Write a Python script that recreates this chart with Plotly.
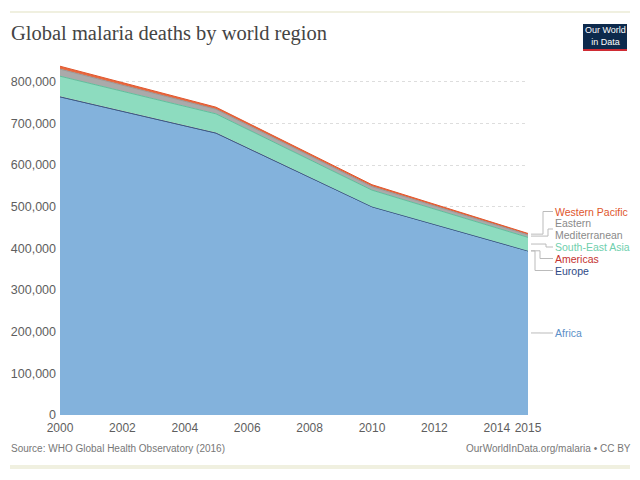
import plotly.graph_objects as go

# data (deaths, stacked)
years = [2000, 2005, 2010, 2015]
regions = ["Africa", "Europe", "Americas", "South-East Asia", "Eastern Mediterranean", "Western Pacific"]
africa = [764000, 677000, 500000, 394000]
europe = [0, 0, 0, 0]
americas = [1500, 1100, 900, 500]
south_east_asia = [48000, 45000, 39000, 32000]
eastern_med = [17000, 11000, 8500, 6200]
western_pacific = [7000, 5000, 4500, 3200]
series = [africa, europe, americas, south_east_asia, eastern_med, western_pacific]

x_ticks = [2000, 2002, 2004, 2006, 2008, 2010, 2012, 2014, 2015]
y_ticks = [0, 100000, 200000, 300000, 400000, 500000, 600000, 700000, 800000]

fills = ["#83b2dc", "#2e4a86", "#c4322f", "#8ddcbf", "#aaaaaa", "#e8683f"]
lines = ["#3f6b93", "#3a5a88", "#c4322f", "#5fbf9c", "#999999", "#e0562c"]
line_w = [1, 1, 0, 1, 1, 1]
label_colors = ["#5b8fc8", "#2e4a86", "#c4322f", "#6fcfad", "#8a8a8a", "#e0562c"]
label_lines = [["Africa"], ["Europe"], ["Americas"], ["South-East Asia"],
               ["Eastern", "Mediterranean"], ["Western Pacific"]]

# page has an 8px body margin, so the figure is drawn 8px smaller and offset
OFF = 8
W, H = 640 - 2 * OFF, 480 - 2 * OFF
L, R, T, B = 60 - OFF, 112 - OFF, 61 - OFF, 65 - OFF
Y_MAX = 850000


def px_x(p):
    return (p - OFF - L) / (W - L - R)


def px_y(p):
    return (H - B - (p - OFF)) / (H - T - B)


fig = go.Figure()
for name, vals, fc, lc, lw in zip(regions, series, fills, lines, line_w):
    fig.add_trace(go.Scatter(
        x=years, y=vals, name=name, mode="lines", stackgroup="one",
        fillcolor=fc, line=dict(color=lc, width=lw), hoverinfo="x+y+name"
    ))

# labels on the right with elbow connectors
label_px = [333, 270.5, 258.5, 247, 229, 211.5]
elbow_px = [540, 535, 540, 546, 548, 543]
cum = 0
for vals, text_lines, col, ly, ex in zip(series, label_lines, label_colors, label_px, elbow_px):
    end_mid = cum + vals[-1] / 2
    cum += vals[-1]
    fig.add_shape(type="line", xref="paper", yref="y", x0=px_x(531), x1=px_x(ex),
                  y0=end_mid, y1=end_mid, line=dict(color="#bbbbbb", width=1))
    fig.add_shape(type="line", xref="paper", yref="paper", x0=px_x(ex), x1=px_x(ex),
                  y0=end_mid / Y_MAX, y1=px_y(ly), line=dict(color="#bbbbbb", width=1))
    fig.add_shape(type="line", xref="paper", yref="paper", x0=px_x(ex), x1=px_x(553),
                  y0=px_y(ly), y1=px_y(ly), line=dict(color="#bbbbbb", width=1))
    first = ly - 6 * (len(text_lines) - 1)
    for i, txt in enumerate(text_lines):
        fig.add_annotation(xref="paper", yref="paper", x=px_x(553), y=px_y(first + 12 * i), text=txt,
                           showarrow=False, xanchor="left", yanchor="middle", align="left",
                           font=dict(family="Liberation Sans, Arial", size=10.5, color=col))

fig.update_layout(
    width=W, height=H, margin=dict(l=L, r=R, t=T, b=B),
    paper_bgcolor="white", plot_bgcolor="white", showlegend=False,
    xaxis=dict(range=[2000, 2015], tickvals=x_ticks, ticktext=[str(t) for t in x_ticks],
               showgrid=False, zeroline=False, showline=False, ticks="", ticklabelstandoff=4,
               automargin=False,
               tickfont=dict(family="Liberation Sans, Arial", size=12, color="#5e5e5e")),
    yaxis=dict(range=[0, Y_MAX], tickvals=y_ticks, tickformat=",", showgrid=True,
               gridcolor="#dddddd", griddash="dot", zeroline=False, ticks="", ticklabelstandoff=3,
               automargin=False,
               tickfont=dict(family="Liberation Sans, Arial", size=12.5, color="#5e5e5e")),
    shapes=list(fig.layout.shapes) + [
        dict(type="line", xref="paper", yref="paper", x0=px_x(10), x1=px_x(630),
             y0=px_y(12), y1=px_y(12), line=dict(color="#f0f0e0", width=2)),
        dict(type="line", xref="paper", yref="paper", x0=px_x(10), x1=px_x(630),
             y0=px_y(467), y1=px_y(467), line=dict(color="#f0f0e0", width=4)),
        dict(type="rect", xref="paper", yref="paper", x0=px_x(583), x1=px_x(627),
             y0=px_y(49), y1=px_y(24), fillcolor="#0d2a4c", line=dict(width=0)),
        dict(type="rect", xref="paper", yref="paper", x0=px_x(583), x1=px_x(627),
             y0=px_y(51), y1=px_y(49), fillcolor="#cf2b33", line=dict(width=0)),
    ],
)

fig.add_annotation(xref="paper", yref="paper", x=px_x(9), y=px_y(34), text="Global malaria deaths by world region",
                   showarrow=False, xanchor="left", yanchor="middle",
                   font=dict(family="Liberation Serif, Georgia, serif", size=20.5, color="#444444"))
fig.add_annotation(xref="paper", yref="paper", x=px_x(605), y=px_y(36), text="Our World<br>in Data",
                   showarrow=False, xanchor="center", yanchor="middle",
                   font=dict(family="Liberation Sans, Arial", size=9, color="white"))
fig.add_annotation(xref="paper", yref="paper", x=px_x(9), y=px_y(448),
                   text="Source: WHO Global Health Observatory (2016)", showarrow=False,
                   xanchor="left", yanchor="middle",
                   font=dict(family="Liberation Sans, Arial", size=10, color="#777777"))
fig.add_annotation(xref="paper", yref="paper", x=px_x(633), y=px_y(448),
                   text="OurWorldInData.org/malaria • CC BY", showarrow=False,
                   xanchor="right", yanchor="middle",
                   font=dict(family="Liberation Sans, Arial", size=10, color="#777777"))

fig.write_html("out.html")
